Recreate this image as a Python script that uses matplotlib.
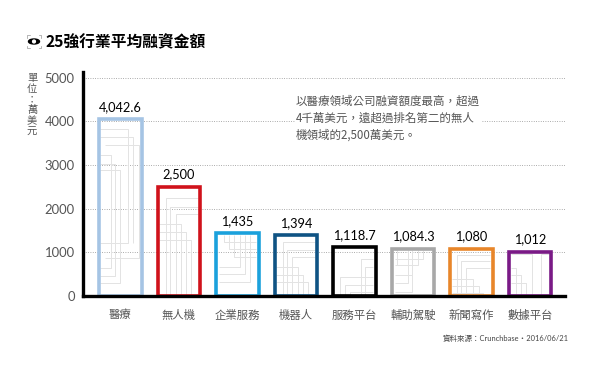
import matplotlib
matplotlib.use('Agg')
import matplotlib.pyplot as plt

plt.rcParams['font.family'] = ['Noto Sans CJK TC', 'DejaVu Sans']

categories = ['醫療', '無人機', '企業服務', '機器人', '服務平台', '輔助駕駛', '新聞寫作', '數據平台']
values = [4042.6, 2500, 1435, 1394, 1118.7, 1084.3, 1080, 1012]
value_labels = ['4,042.6', '2,500', '1,435', '1,394', '1,118.7', '1,084.3', '1,080', '1,012']
bar_colors = ['#a5c4e4', '#d0121b', '#1ba1dc', '#0f5384', '#000000', '#a8a8a8', '#e8862a', '#7a1a86']
y_ticks = [0, 1000, 2000, 3000, 4000, 5000]

# Thin maze lines inside each bar: (far x, corner x, level of the horizontal, end of the vertical, closed)
# x is a fraction of the bar width, y in the units of the chart
maze_lines = [
    [(0.03, 0.68, 3826, 1214, True), (0.03, 0.80, 3640, 1214, False), (0.15, 0.93, 3460, 870, True),
     (0.03, 0.27, 3230, 640, True), (0.03, 0.38, 3030, 460, True), (0.03, 0.50, 2886, 300, True)],
    [(0.96, 0.19, 2245, 0, False), (0.96, 0.30, 2040, 0, False), (0.96, 0.43, 1880, 0, False),
     (0.04, 0.56, 1650, 0, False), (0.04, 0.67, 1470, 0, False), (0.04, 0.78, 1290, 0, False)],
    [(0.94, 0.19, 1245, 1400, False), (0.94, 0.30, 1075, 1400, False), (0.94, 0.41, 900, 1400, False),
     (0.07, 0.56, 670, 1400, False), (0.07, 0.68, 504, 1400, False), (0.07, 0.80, 327, 1400, False)],
    [(0.96, 0.19, 1245, 0, False), (0.96, 0.30, 1060, 0, False), (0.96, 0.41, 890, 0, False),
     (0.04, 0.56, 655, 0, False), (0.04, 0.67, 480, 0, False), (0.04, 0.78, 310, 0, False)],
    [(0.94, 0.65, 850, 0, False), (0.94, 0.76, 670, 0, False), (0.94, 0.16, 435, 0, False),
     (0.94, 0.28, 260, 0, False), (0.94, 0.39, 85, 0, False)],
    [(0.07, 0.75, 850, 1060, False), (0.07, 0.62, 700, 1060, False), (0.07, 0.49, 470, 1060, False),
     (0.07, 0.38, 290, 1060, False), (0.07, 0.49, 100, 470, False), (0.07, 0.12, 1060, 700, False)],
    [(0.93, 0.15, 940, 0, False), (0.93, 0.26, 810, 0, False), (0.93, 0.37, 650, 0, False),
     (0.04, 0.54, 400, 0, False), (0.04, 0.67, 240, 0, False), (0.04, 0.78, 75, 0, False)],
    [(0.05, 0.56, 960, 0, False), (0.95, 0.75, 960, 0, False), (0.05, 0.17, 640, 0, False),
     (0.05, 0.30, 470, 0, False), (0.05, 0.41, 300, 0, False)],
]

BAR_WIDTH = 0.726


def draw_maze(ax, index, lines):
    left = index - BAR_WIDTH / 2
    for far, corner, level, end, closed in lines:
        xs = [left + far * BAR_WIDTH, left + corner * BAR_WIDTH, left + corner * BAR_WIDTH]
        ys = [level, level, end]
        if closed:
            xs.append(xs[0])
            ys.append(end)
        ax.plot(xs, ys, color='#e3e3e3', lw=0.7, zorder=1, solid_capstyle='butt')


def draw_eye_icon(fig):
    # small overlay in pixel coordinates for the icon next to the title
    icon = fig.add_axes([0, 0, 1, 1])
    icon.set_xlim(0, 600)
    icon.set_ylim(370, 0)
    icon.axis('off')
    for x, y, dx, dy in [(27, 35, 1, 1), (41, 35, -1, 1), (27, 48, 1, -1), (41, 48, -1, -1)]:
        icon.plot([x + 2.5 * dx, x, x], [y, y, y + 2.5 * dy], color='#999999', lw=0.5)
    icon.add_patch(matplotlib.patches.Ellipse((34, 41.5), 11, 5, color='black'))
    icon.add_patch(matplotlib.patches.Circle((34, 41.5), 1.4, color='white'))


def main():
    fig = plt.figure(figsize=(6, 3.7), dpi=100)
    ax = fig.add_axes([83 / 600, (370 - 296) / 370, (565 - 83) / 600, 224 / 370])
    ax.set_xlim(-0.638, 7.6)
    ax.set_ylim(0, 5126)

    for y in y_ticks[1:]:
        ax.axhline(y, color='#909090', lw=0.6, ls=(0, (1, 1.8)), zorder=0)

    positions = list(range(len(categories)))
    for i, lines in enumerate(maze_lines):
        draw_maze(ax, i, lines)
    ax.bar(positions, values, width=BAR_WIDTH, fill=False, edgecolor=bar_colors, linewidth=2.6, zorder=2)

    for i, label in enumerate(value_labels):
        ax.annotate(label, (i, values[i]), xytext=(0, 4.5), textcoords='offset points', ha='center', va='bottom',
                    fontsize=9.2, color='black', family=['Lato', 'DejaVu Sans'])

    for side in ['top', 'right']:
        ax.spines[side].set_visible(False)
    ax.spines['left'].set_linewidth(2.4)
    ax.spines['bottom'].set_linewidth(2.4)
    ax.spines['left'].set_zorder(5)
    ax.spines['bottom'].set_zorder(5)

    ax.set_yticks(y_ticks)
    ax.set_yticklabels([str(y) for y in y_ticks], family=['Lato', 'DejaVu Sans'])
    ax.set_xticks(positions)
    ax.set_xticklabels(categories)
    ax.tick_params(axis='y', length=0, pad=6, labelsize=9.4, labelcolor='#555555')
    ax.tick_params(axis='x', length=0, pad=10, labelsize=8.2, labelcolor='#555555')

    fig.text(45 / 600, 1 - 42 / 370, '25強行業平均融資金額', fontsize=11.3, fontweight='bold', va='center', color='black')
    fig.text(32 / 600, 1 - 105 / 370, '\n'.join('單位：萬美元'), fontsize=7.4, color='#555555', ha='center', va='center',
             linespacing=1.08)
    note = '以醫療領域公司融資額度最高，超過\n4千萬美元，遠超過排名第二的無人\n機領域的2,500萬美元。'
    fig.text(296 / 600, 1 - 118 / 370, note, fontsize=8.3, color='#555555', ha='left', va='center', linespacing=1.4,
             bbox=dict(facecolor='white', edgecolor='none', pad=1))
    fig.text(569 / 600, 1 - 338 / 370, '資料來源：Crunchbase‧2016/06/21', fontsize=5.4, color='#444444', ha='right', va='center',
             family=['Lato', 'Noto Sans CJK TC', 'DejaVu Sans'])

    draw_eye_icon(fig)
    fig.savefig('out.png', dpi=100)


if __name__ == "__main__":
    main()
